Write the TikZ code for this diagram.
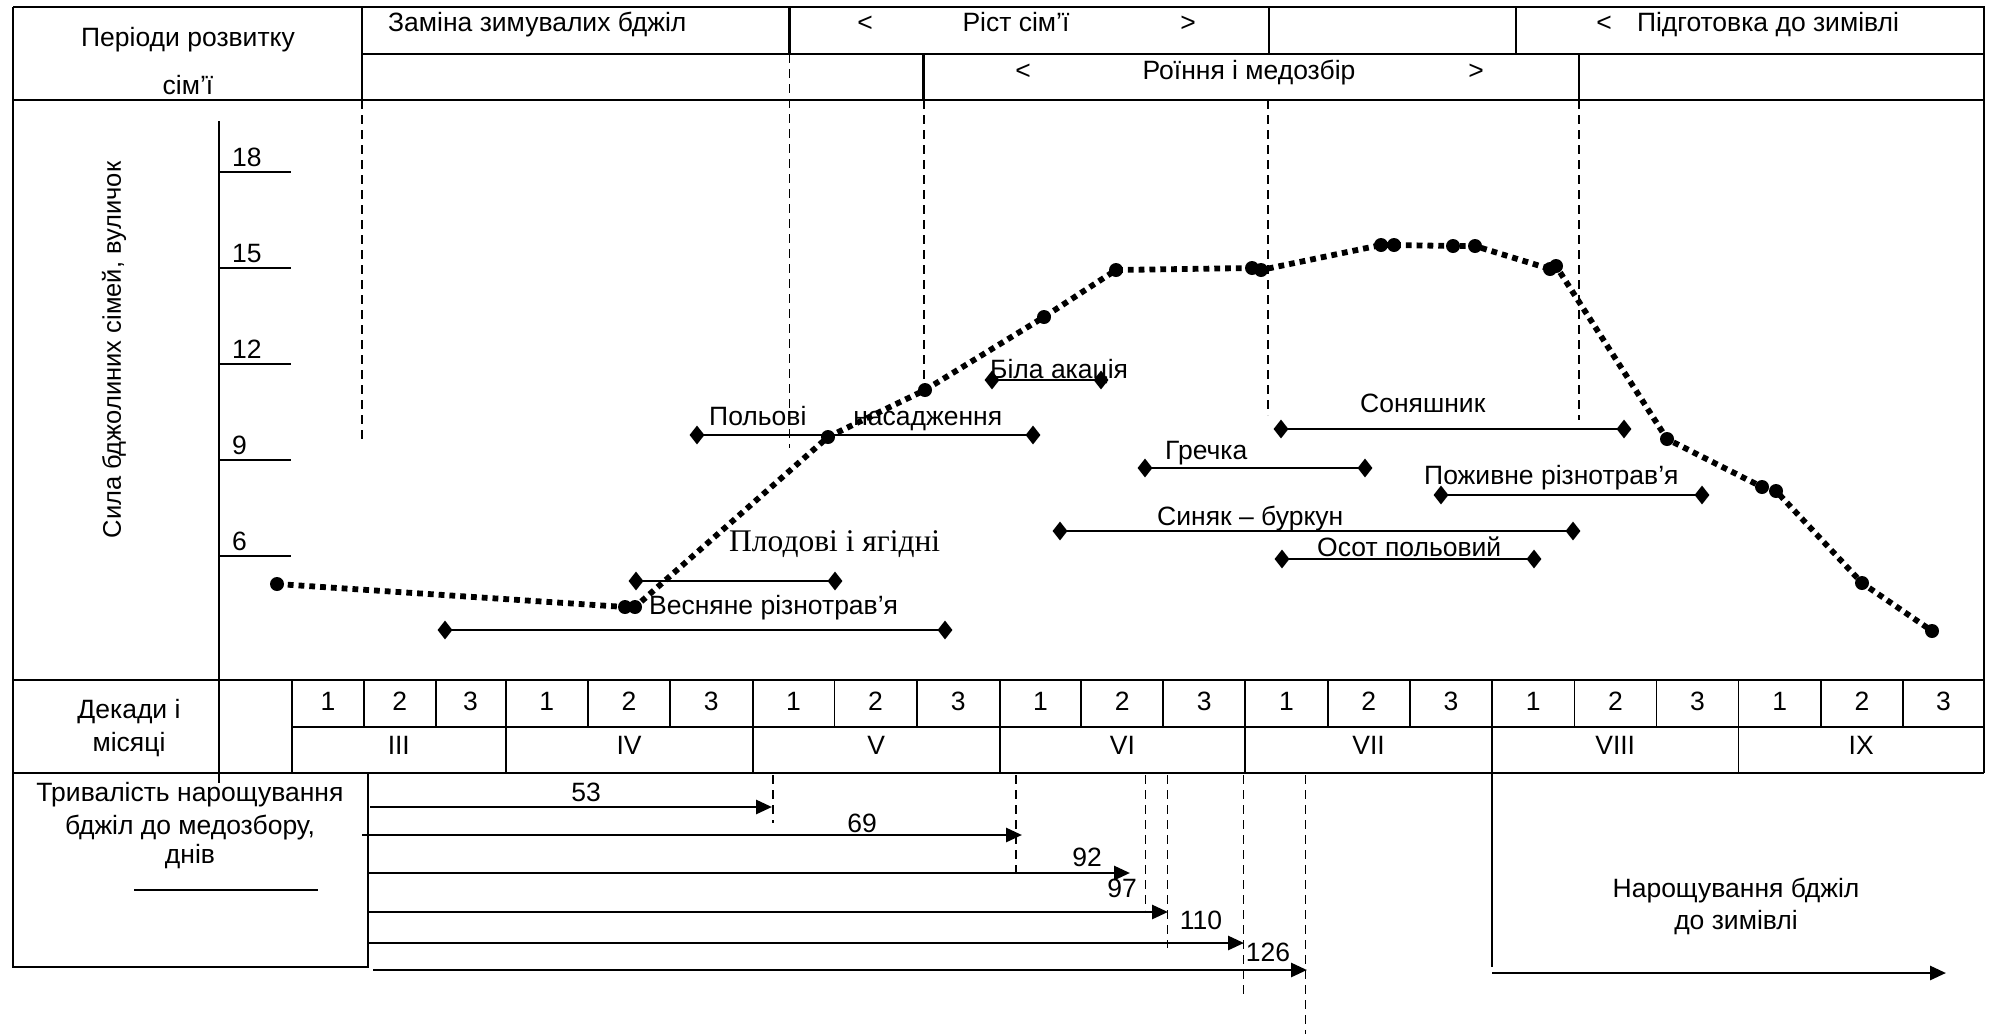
\documentclass[tikz,border=0pt]{standalone}
\usepackage{fontspec}
\setmainfont{Liberation Sans}
\newfontfamily\serifcyr{Liberation Serif}
\usetikzlibrary{shapes.geometric,arrows.meta}
\begin{document}
\begin{tikzpicture}[x=1pt,y=-1pt,
  every node/.style={font=\fontsize{26.5}{30}\selectfont, inner sep=0pt},
  frame/.style={line width=2.5pt},
  thinline/.style={line width=1.8pt},
  vdash/.style={line width=1.3pt, dash pattern=on 9pt off 6pt},
  dmd/.style={diamond, fill=black, draw=none, minimum width=15pt, minimum height=19pt, inner sep=0pt},
  cdot/.style={circle, fill=black, draw=none, minimum size=14pt, inner sep=0pt},
  plant/.style={line width=2.6pt},
  curve/.style={line width=5.8pt, dash pattern=on 5.8pt off 5pt},
  arr/.style={line width=2.8pt, -{Triangle[length=16pt,width=14pt]}},
  bw/.style={anchor=base west},
  bc/.style={anchor=base}
]
\useasboundingbox (0,0) rectangle (1992,1034);

% ---------- header ----------
\draw[frame] (13,7) -- (1984,7) -- (1984,773);
\draw[frame] (13,7) -- (13,967) -- (368,967) -- (368,773);
\draw[frame] (362,7) -- (362,100);
\draw[frame] (362,54) -- (1984,54);
\draw[frame] (13,100) -- (1984,100);
\draw[frame] (789.5,7) -- (789.5,54);
\draw[frame] (1269,7) -- (1269,54);
\draw[frame] (1516,7) -- (1516,54);
\draw[frame] (923.5,54) -- (923.5,100);
\draw[frame] (1579,54) -- (1579,100);

\node[bc] (hp1) at (188,46) {Періоди розвитку};
\node[bc] (hp2) at (188,94) {сім’ї};
\node[bw] (hz) at (388,31) {Заміна зимувалих бджіл};
\node[bc] (hr1) at (865,31) {<};
\node[bc] (hr2) at (1016,31) {Ріст сім’ї};
\node[bc] (hr3) at (1188,31) {>};
\node[bc] (hw1) at (1604,31) {<};
\node[bc] (hw2) at (1768,31) {Підготовка до зимівлі};
\node[bc] (hm1) at (1023,79) {<};
\node[bc] (hm2) at (1249,79) {Роїння і медозбір};
\node[bc] (hm3) at (1476,79) {>};

% ---------- dashed period lines ----------
\draw[vdash] (789.5,54) -- (789.5,448);
\draw[vdash] (362,100) -- (362,439);
\draw[vdash] (924,100) -- (924,385);
\draw[vdash] (1268,100) -- (1268,415);
\draw[vdash] (1579,100) -- (1579,420);

% ---------- axis ----------
\draw[frame] (219,121) -- (219,783);
\foreach \yy/\lab in {172/18, 268/15, 364/12, 460/9, 556/6} {
  \draw[thinline] (219,\yy) -- (291,\yy);
  \node[bw] (t\lab) at (232,\yy-5.5) {\lab};
}
\node[rotate=90, font=\fontsize{25.5}{29}\selectfont] (ylab) at (114,350) {Сила бджолиних сімей, вуличок};

% ---------- plants ----------
\foreach \n/\xa/\xb/\yy in {pv/445/945/630, pl/636/835/581, pp/697/1033/435,
   pb/992/1101/380, pg/1145/1365/468, ps/1060/1573/531, po/1282/1534/559,
   pn/1281/1624/429, pz/1441/1702/495} {
  \node[dmd] (\n a) at (\xa,\yy) {};
  \node[dmd] (\n b) at (\xb,\yy) {};
  \draw[plant] (\n a.center) -- (\n b.center);
}
\node[bw] (lv) at (649,614) {Весняне різнотрав’я};
\node[bw, font=\serifcyr\fontsize{31.5}{34}\selectfont] (ll) at (729,551) {Плодові і ягідні};
\node[bw] (lp) at (709,425) {Польові\hspace{47pt}насадження};
\node[bw] (lb) at (990,378) {Біла акація};
\node[bw] (lg) at (1165,459) {Гречка};
\node[bw] (ls) at (1157,525) {Синяк – буркун};
\node[bw] (lo) at (1317,556) {Осот польовий};
\node[bw] (ln) at (1360,412) {Соняшник};
\node[bw] (lz) at (1424,484) {Поживне різнотрав’я};

% ---------- curve ----------
\foreach \n/\px/\py in {1/277/584, 2/625/607, 3/635/607, 4/828/437, 5/925/390,
   6/1044/317, 7/1116/270, 8/1252/268, 9/1261/270, 10/1381/245, 11/1394/245,
   12/1453/246, 13/1475/246, 14/1550/269, 15/1556/266, 16/1667/439,
   17/1762/487, 18/1776/491, 19/1862/583, 20/1932/631} {
  \node[cdot] (c\n) at (\px,\py) {};
}
\draw[curve] (c1.center) \foreach \i in {2,...,20} { -- (c\i.center) };

% ---------- decades / months ----------
\draw[frame] (13,680) -- (1984,680);
\draw[frame] (13,773) -- (1984,773);
\draw[thinline] (292,727) -- (1984,727);
\draw[thinline] (292,680) -- (292,773);
\foreach \xx in {364,435.6,588,670,834.4,916.8,1081,1163.3,1327.7,1410,1574.5,1656.5,1820.8,1903}
  \draw[thinline] (\xx,680) -- (\xx,727);
\foreach \xx in {505.6,752.6,999.8,1245.3,1738.5}
  \draw[thinline] (\xx,680) -- (\xx,773);
\draw[thinline] (1492,680) -- (1492,967);

\foreach \xa/\xb/\d [count=\k] in {292/364/1,364/435.6/2,435.6/505.6/3,
   505.6/588/1,588/670/2,670/752.6/3,752.6/834.4/1,834.4/916.8/2,916.8/999.8/3,
   999.8/1081/1,1081/1163.3/2,1163.3/1245.3/3,1245.3/1327.7/1,1327.7/1410/2,1410/1492/3,
   1492/1574.5/1,1574.5/1656.5/2,1656.5/1738.5/3,1738.5/1820.8/1,1820.8/1903/2,1903/1984/3}
  \node[bc] (d\k) at ({(\xa+\xb)/2},710) {\d};
\foreach \xx/\m [count=\k] in {398.8/III,629.1/IV,876.2/V,1122.5/VI,1368.6/VII,1615.2/VIII,1861.2/IX}
  \node[bc] (m\k) at (\xx,754) {\m};
\node[bc] (dk1) at (129,718) {Декади і};
\node[bc] (dk2) at (129,751) {місяці};

% ---------- duration ----------
\node[bc] (tr1) at (190,801) {Тривалість нарощування};
\node[bc] (tr2) at (190,834) {бджіл до медозбору,};
\node[bc] (tr3) at (190,863) {днів};
\draw[thinline] (134,890) -- (318,890);

\draw[vdash] (773,775) -- (773,823);
\draw[vdash] (1016,775) -- (1016,879);
\draw[vdash] (1145.6,775) -- (1145.6,910);
\draw[vdash] (1167.7,775) -- (1167.7,948);
\draw[vdash] (1243.7,775) -- (1243.7,995);
\draw[vdash] (1305.7,775) -- (1305.7,1034);

\foreach \n/\xa/\xb/\yy in {1/370/772/807, 2/362/1022/835, 3/368/1130/873,
   4/368/1168/912, 5/368/1244/943, 6/373/1307/970, 7/1492/1946/973} {
  \coordinate (s\n) at (\xa,\yy);
  \coordinate (e\n) at (\xb,\yy);
  \draw[arr] (s\n) -- (e\n);
}
\node[bc] (n53) at (586,801) {53};
\node[bc] (n69) at (862,832) {69};
\node[bc] (n92) at (1087,866) {92};
\node[bc] (n97) at (1122,897) {97};
\node[bc] (n110) at (1201,929) {110};
\node[bc] (n126) at (1268,961) {126};

\node[bc] (nz1) at (1736,897) {Нарощування бджіл};
\node[bc] (nz2) at (1736,929) {до зимівлі};
\end{tikzpicture}
\end{document}
